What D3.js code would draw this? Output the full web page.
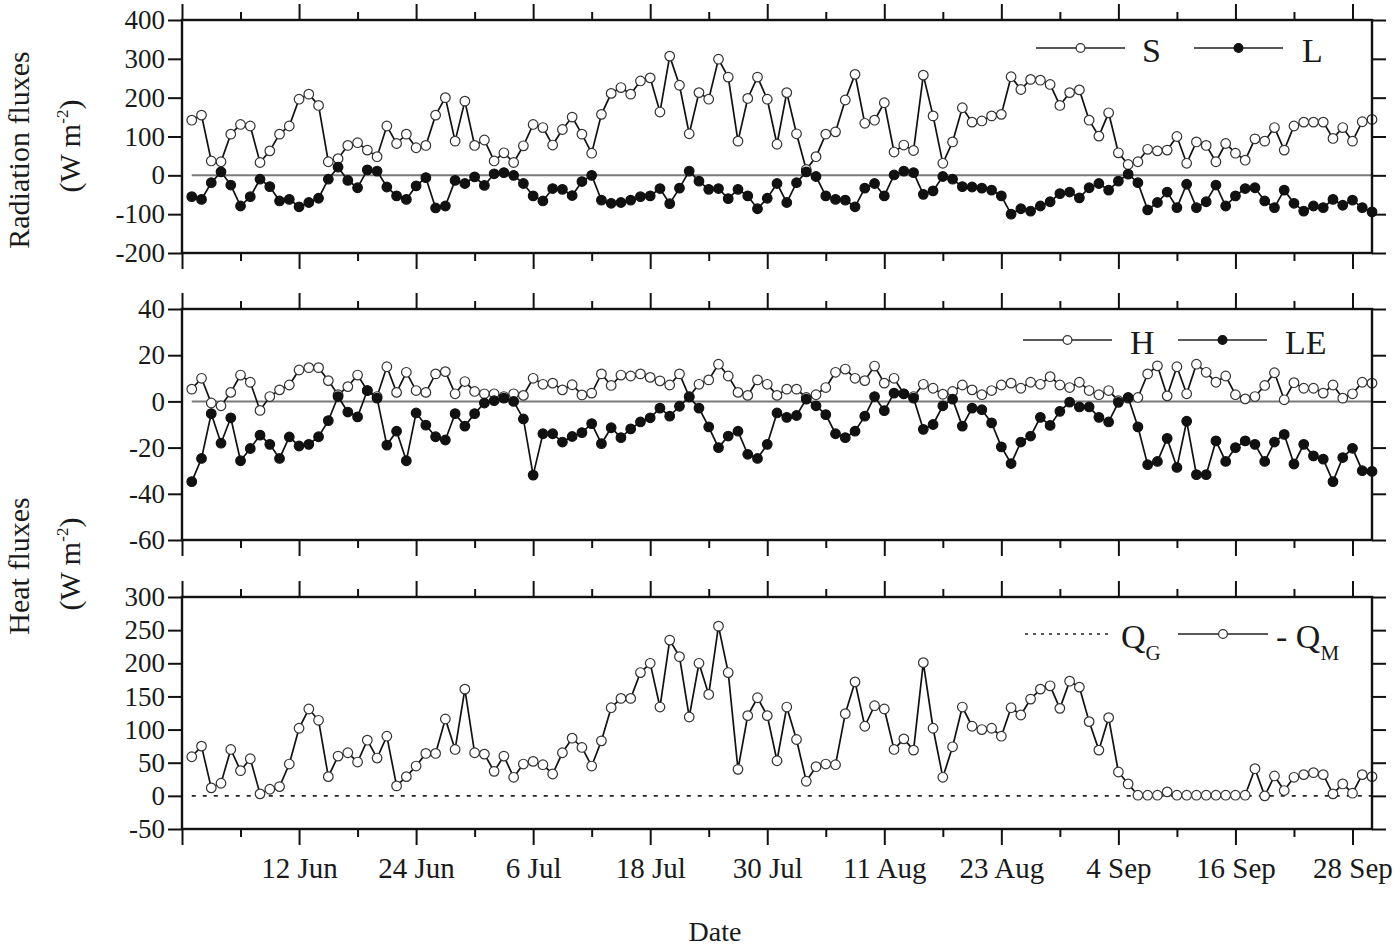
<!DOCTYPE html>
<html><head><meta charset="utf-8">
<script src="https://cdn.jsdelivr.net/npm/d3@7"></script>
<style>
body{margin:0;background:#fff}
text{font-family:"Liberation Serif","Times New Roman",serif;fill:#1a1a1a}
</style>
</head><body>
<svg id="c" width="1400" height="948"></svg>
<script>
// ---------------- DATA ----------------
const startDate = "2010-06-01"; // first daily value (1 Jun)
const S = [142,155,37,35,106,131,127,33,63,106,127,196,209,180,35,43,77,84,65,48,
127,82,106,71,77,155,200,88,191,77,91,37,58,33,76,131,123,78,118,150,
106,57,157,211,226,209,243,251,163,307,232,107,213,196,299,253,88,198,253,196,
80,213,107,15,48,106,112,194,260,134,142,187,60,78,64,258,153,31,86,174,
137,140,153,157,254,221,247,245,234,180,213,220,142,101,161,58,28,35,67,63,
65,100,31,86,77,35,82,57,39,94,88,123,65,127,137,137,137,95,123,88,
138,144];
const L = [-55,-62,-19,9,-25,-79,-55,-10,-29,-66,-62,-81,-70,-59,-10,21,-13,-32,14,11,
-30,-53,-62,-27,-6,-84,-79,-13,-21,-4,-26,4,7,0,-21,-53,-66,-34,-36,-52,
-16,0,-64,-72,-70,-64,-55,-53,-34,-73,-33,11,-15,-36,-34,-60,-36,-53,-86,-59,
-21,-70,-19,9,-3,-53,-62,-64,-81,-33,-21,-53,1,11,7,-49,-40,-3,-10,-29,
-30,-33,-38,-53,-100,-86,-92,-79,-68,-47,-43,-58,-32,-21,-38,-15,3,-19,-89,-70,
-43,-83,-23,-83,-68,-25,-79,-53,-34,-32,-66,-83,-38,-72,-92,-79,-83,-62,-77,-64,
-83,-94];
const H = [5.3,10,-0.7,-1.9,3.9,11.4,8.3,-3.9,2.1,5,7.1,13.6,14.6,14.6,9,2.9,6.4,11.4,4.7,2.1,
15,3.9,12.6,4.7,3.9,11.9,12.9,3.3,8.6,4.3,3.3,3.3,2.1,3.3,2.6,10,7.4,7.9,5,7.2,
2.8,3.6,11.9,6.9,11.4,11,11.9,10.4,8.9,7.1,11.9,2.1,7.4,9.3,16.1,11,3.9,2.6,9.3,7.4,
2.6,5.3,5.3,1.7,2.9,6,12.6,14,10,9,15.3,7.9,10,3.3,2.1,7.4,5.7,3.1,4.3,7.1,
5,2.9,4.7,7.1,7.9,5.7,8.3,7.4,10.7,7.1,6,8.3,4.7,2.9,4.7,0.3,1.4,1.7,11.9,15.4,
2.4,15,3.3,16.1,12.6,8.3,11,2.9,1.1,2.1,6.9,12.4,0.7,8.1,5.7,5.7,3.6,7.1,1.4,3.3,
8.3,7.9];
const LE = [-34.7,-24.7,-5.3,-18.1,-7.1,-25.7,-20.4,-14.6,-18.6,-24.7,-15.4,-19.3,-18.6,-15.3,-8.3,2.1,-4.6,-6.7,4.7,1.4,
-18.9,-12.9,-25.7,-5,-10.3,-15.3,-16.7,-5.3,-10.7,-5.3,-0.7,0.3,1.4,0,-7.6,-31.9,-14,-14,-17.6,-15.2,
-13.5,-9.6,-18.3,-11.4,-15.7,-11.9,-8.9,-7.1,-2.9,-6.4,-2.1,1.9,-2.9,-11,-20,-15,-12.9,-22.9,-24.7,-18.6,
-5,-6.9,-6.1,1,-1.9,-5.7,-14,-15.7,-12.9,-6.4,2.1,-4,3.6,3.3,1.4,-12.1,-10,-1.9,1,-10.7,
-2.9,-3.6,-9.3,-19.7,-26.9,-17.6,-15,-6.9,-10.4,-4.3,-0.3,-2.4,-2.4,-6.9,-8.9,-0.4,1.7,-11,-27.4,-26,
-16,-28.6,-8.6,-31.7,-31.7,-17.1,-26,-20,-17.1,-18.6,-26,-17.6,-14.3,-27.1,-18.6,-23.6,-25,-34.7,-24.3,-20.3,
-30,-30.3];
const QM = [59,75,12,19,70,38,56,3,10,14,48,102,131,114,29,60,65,51,84,57,
90,15,29,45,64,64,116,70,161,65,63,37,60,28,48,52,47,33,65,87,
73,45,83,133,147,147,186,200,134,235,210,119,200,153,256,186,40,121,148,121,
53,134,85,22,44,48,47,124,172,105,136,131,70,86,69,201,102,28,74,134,
105,100,102,90,133,122,146,161,166,132,173,164,112,69,118,36,18,1,1,1,
6,1,1,1,1,1,1,1,1,41,0,30,8,28,32,35,32,3,18,4,
32,29];
const QG = [0,0,0,0,0,0,0,0,0,0,0,0,0,0,0,0,0,0,0,0,
0,0,0,0,0,0,0,0,0,0,0,0,0,0,0,0,0,0,0,0,
0,0,0,0,0,0,0,0,0,0,0,0,0,0,0,0,0,0,0,0,
0,0,0,0,0,0,0,0,0,0,0,0,0,0,0,0,0,0,0,0,
0,0,0,0,0,0,0,0,0,0,0,0,0,0,0,0,0,0,0,0,
0,0,0,0,0,0,0,0,0,0,0,0,0,0,0,0,0,0,0,0,
0,0];
const xTickLabels = ["12 Jun","24 Jun","6 Jul","18 Jul","30 Jul","11 Aug","23 Aug","4 Sep","16 Sep","28 Sep"];
const yTicksRad = [-200,-100,0,100,200,300,400];
const yTicksHeat = [-60,-40,-20,0,20,40];
const yTicksQ = [-50,0,50,100,150,200,250,300];

// ---------------- LAYOUT ----------------
const svg = d3.select("#c");
const X0 = 182, X1 = 1372;
const FONT = '"Liberation Serif","Times New Roman",serif';
const parseDay = d3.utcParse("%Y-%m-%d");
const start = parseDay(startDate);
const year = start.getUTCFullYear();
const dates = S.map((_, i) => d3.utcDay.offset(start, i));
const axisStart = d3.utcDay.offset(start, -1);
const axisEnd = dates[dates.length - 1];
const x = d3.scaleUtc().domain([axisStart, axisEnd]).range([X0, X1]);

const parseLbl = d3.utcParse("%d %b %Y");
const labelDates = xTickLabels.map(l => parseLbl(l + " " + year));
const majorDates = [axisStart].concat(labelDates);
const minorDates = majorDates.map(d => d3.utcDay.offset(d, 6)).filter(d => d < axisEnd);
const lblMap = new Map(labelDates.map((d, i) => [+d, xTickLabels[i]]));

const MAJ = 16, MIN = 8, YT = 14;

const panels = [
  {top: 20, bottom: 253, domain: [-200, 400], ticks: yTicksRad,
   zero: true,
   series: [{v: S, type: "open"}, {v: L, type: "filled"}]},
  {top: 309, bottom: 540, domain: [-60, 40], ticks: yTicksHeat,
   zero: true,
   series: [{v: H, type: "open"}, {v: LE, type: "filled"}]},
  {top: 597, bottom: 829, domain: [-50, 300], ticks: yTicksQ,
   zero: false, xlabels: true,
   series: [{v: QG, type: "dotted"}, {v: QM, type: "open"}]}
];

function styleAxis(g, w) {
  g.select(".domain").remove();
  g.selectAll(".tick line").attr("stroke", "#111").attr("stroke-width", w);
}

panels.forEach(p => {
  const y = d3.scaleLinear().domain(p.domain).range([p.bottom, p.top]);
  const g = svg.append("g");

  if (p.zero) {
    g.append("line")
      .attr("x1", x(dates[0])).attr("x2", x(axisEnd))
      .attr("y1", y(0)).attr("y2", y(0))
      .attr("stroke", "#7a7a7a").attr("stroke-width", 2);
  }

  p.series.forEach(s => {
    const pts = s.v.map((v, i) => [dates[i], v]);
    const line = d3.line().x(d => x(d[0])).y(d => y(d[1]));
    if (s.type === "dotted") {
      g.append("path").attr("d", line(pts)).attr("fill", "none")
        .attr("stroke", "#222").attr("stroke-width", 1.6).attr("stroke-dasharray", "4,7");
      return;
    }
    g.append("path").attr("d", line(pts)).attr("fill", "none")
      .attr("stroke", "#111").attr("stroke-width", 1.7);
    g.selectAll(null).data(pts).enter().append("circle")
      .attr("cx", d => x(d[0])).attr("cy", d => y(d[1])).attr("r", 4.8)
      .attr("fill", s.type === "open" ? "#fff" : "#111")
      .attr("stroke", s.type === "open" ? "#333" : "#111")
      .attr("stroke-width", 1.2);
  });

  g.append("rect").attr("x", X0).attr("y", p.top)
    .attr("width", X1 - X0).attr("height", p.bottom - p.top)
    .attr("fill", "none").attr("stroke", "#111").attr("stroke-width", 2.4);

  const yl = g.append("g").attr("transform", `translate(${X0},0)`)
    .call(d3.axisLeft(y).tickValues(p.ticks).tickSize(YT).tickPadding(3).tickFormat(d => String(d)));
  styleAxis(yl, 2);
  yl.selectAll("text").attr("font-size", 27).attr("fill", "#1a1a1a").attr("font-family", FONT);
  const yr = g.append("g").attr("transform", `translate(${X1},0)`)
    .call(d3.axisRight(y).tickValues(p.ticks).tickSize(YT).tickFormat(""));
  styleAxis(yr, 2);

  [["top", p.top, d3.axisTop], ["bottom", p.bottom, d3.axisBottom]].forEach(([side, yy, ax]) => {
    const gm = g.append("g").attr("transform", `translate(0,${yy})`)
      .call(ax(x).tickValues(majorDates).tickSize(MAJ).tickPadding(12)
        .tickFormat(d => (side === "bottom" && p.xlabels) ? (lblMap.get(+d) || "") : ""));
    styleAxis(gm, 2);
    gm.selectAll("text").attr("font-size", 29).attr("fill", "#1a1a1a").attr("font-family", FONT);
    const gn = g.append("g").attr("transform", `translate(0,${yy})`)
      .call(ax(x).tickValues(minorDates).tickSize(MIN).tickFormat(""));
    styleAxis(gn, 2);
  });
});

// ---------------- LEGENDS ----------------
function legLine(x1, x2, yy, marker, dotted) {
  svg.append("line").attr("x1", x1).attr("x2", x2).attr("y1", yy).attr("y2", yy)
    .attr("stroke", "#222").attr("stroke-width", 1.6)
    .attr("stroke-dasharray", dotted ? "3,5" : null);
  if (marker) {
    svg.append("circle").attr("cx", (x1 + x2) / 2).attr("cy", yy).attr("r", 4.4)
      .attr("fill", marker === "open" ? "#fff" : "#111")
      .attr("stroke", marker === "open" ? "#333" : "#111").attr("stroke-width", 1.2);
  }
}
function legText(tx, ty, txt, sub) {
  const t = svg.append("text").attr("x", tx).attr("y", ty).attr("font-size", 34).text(txt);
  if (sub) t.append("tspan").attr("font-size", 21).attr("dy", 12).text(sub);
}
legLine(1036, 1125, 48, "open"); legText(1142, 62, "S");
legLine(1194, 1283, 48, "filled"); legText(1302, 62, "L");
legLine(1023, 1112, 340, "open"); legText(1130, 354, "H");
legLine(1178, 1267, 340, "filled"); legText(1285, 354, "LE");
legLine(1025, 1112, 634, null, true); legText(1121, 648, "Q", "G");
legLine(1178, 1268, 634, "open"); legText(1276, 648, "- Q", "M");

// ---------------- AXIS TITLES ----------------
function vTitle(tx, ty, txt) {
  svg.append("text").attr("transform", `translate(${tx},${ty}) rotate(-90)`)
    .attr("text-anchor", "middle").attr("font-size", 30).text(txt);
}
function vUnit(tx, ty) {
  const t = svg.append("text").attr("transform", `translate(${tx},${ty}) rotate(-90)`)
    .attr("text-anchor", "middle").attr("font-size", 30);
  t.append("tspan").text("(W m");
  t.append("tspan").attr("font-size", 17).attr("dy", -12).text("-2");
  t.append("tspan").attr("dy", 12).text(")");
}
vTitle(29, 150, "Radiation fluxes");
vUnit(80, 146);
vTitle(29, 566, "Heat fluxes");
vUnit(80, 564);
svg.append("text").attr("x", 715).attr("y", 941).attr("text-anchor", "middle")
  .attr("font-size", 28).text("Date");
</script>
</body></html>
